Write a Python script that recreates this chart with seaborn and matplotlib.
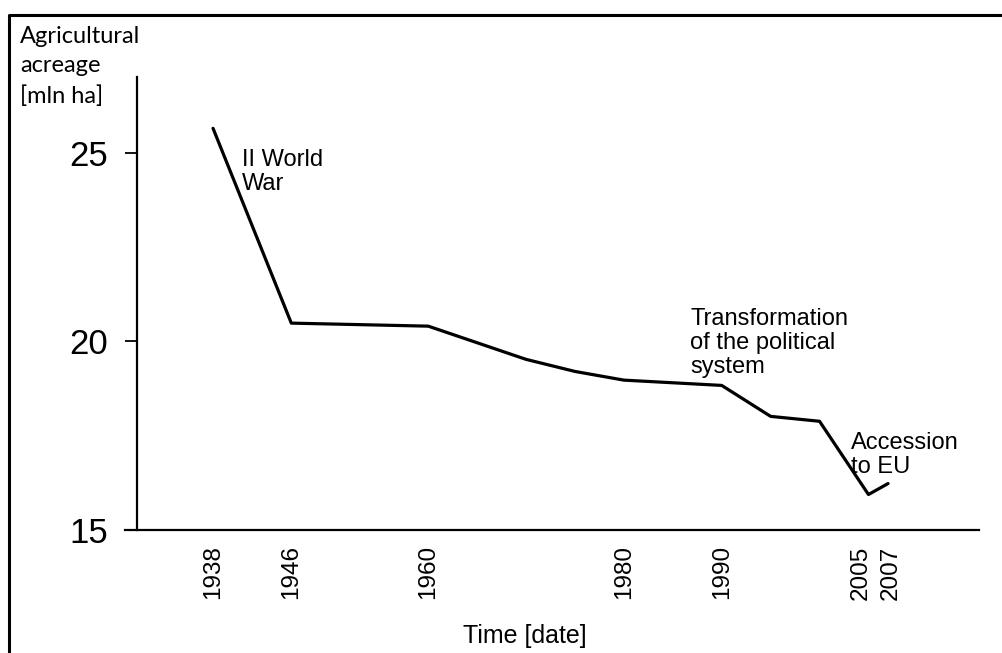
import matplotlib
matplotlib.use("Agg")
import matplotlib.pyplot as plt
from matplotlib.lines import Line2D
from matplotlib.transforms import ScaledTranslation
import seaborn as sns
import pandas as pd

# ---- data ----
years = [1938, 1946, 1960, 1970, 1975, 1980, 1990, 1995, 2000, 2005, 2007]
acreage = [25.64, 20.48, 20.40, 19.52, 19.20, 18.97, 18.83, 18.01, 17.88, 15.94, 16.23]
tick_years = [1938, 1946, 1960, 1980, 1990, 2005, 2007]
y_ticks = [15, 20, 25]
annotations = [
    ("II World\nWar", 1941.0, 25.09),
    ("Transformation\nof the political\nsystem", 1986.8, 20.88),
    ("Accession\nto EU", 2003.2, 17.59),
]
y_label = "Agricultural\nacreage\n[mln ha]"
x_label = "Time [date]"

sns.set_theme(style="white")
plt.rcParams['font.family'] = ['Liberation Sans', 'DejaVu Sans']

df = pd.DataFrame({"year": years, "acreage": acreage})

fig = plt.figure(figsize=(10.02, 6.53), dpi=100)
ax = fig.add_axes([125 / 1002, 123 / 653, 854 / 1002, 453 / 653])

sns.lineplot(data=df, x="year", y="acreage", ax=ax, color="black",
             linewidth=2.3, sort=False)

ax.set_xlim(1929.0, 2016.3)
ax.set_ylim(15, 27)

for s in ["top", "right"]:
    ax.spines[s].set_visible(False)
for s in ["left", "bottom"]:
    ax.spines[s].set_color("black")
    ax.spines[s].set_linewidth(1.6)
ax.spines["left"].set_position(("data", 1930.2))

ax.set_yticks(y_ticks)
ax.set_yticklabels([str(v) for v in y_ticks], fontsize=25)
ax.tick_params(axis="y", direction="out", length=8.6, width=1.3, pad=12,
               colors="black", left=True)
ax.set_xticks(tick_years)
ax.set_xticklabels([str(v) for v in tick_years], rotation=90, fontsize=17.5)
ax.tick_params(axis="x", length=0, pad=11, colors="black")

# nudge the two crowded labels apart, as in the reference
shifts = {"2005": -8, "2007": 3}
for lab in ax.get_xticklabels():
    dx = shifts.get(lab.get_text(), 0)
    if dx:
        lab.set_transform(lab.get_transform() +
                          ScaledTranslation(dx / 100, 0, fig.dpi_scale_trans))

ax.set_xlabel(x_label, fontsize=18, color="black")
ax.xaxis.set_label_coords((525 - 125) / 854, (530 - 624) / 453)
ax.set_ylabel("")

for txt, xx, yy in annotations:
    ax.text(xx, yy, txt, fontsize=17, va="top", ha="left", color="black",
            linespacing=1.12)

fig.text(20 / 1002, 1 - 26 / 653, y_label, fontsize=17, va="top", ha="left",
         family=["Lato", "DejaVu Sans"], color="black", linespacing=1.5)

# outer frame (left and top edges)
fig.add_artist(Line2D([9 / 1002, 9 / 1002, 1.0], [0.0, 1 - 15 / 653, 1 - 15 / 653],
                      transform=fig.transFigure, color="black", linewidth=2.2))

fig.savefig("out.png", dpi=100)
